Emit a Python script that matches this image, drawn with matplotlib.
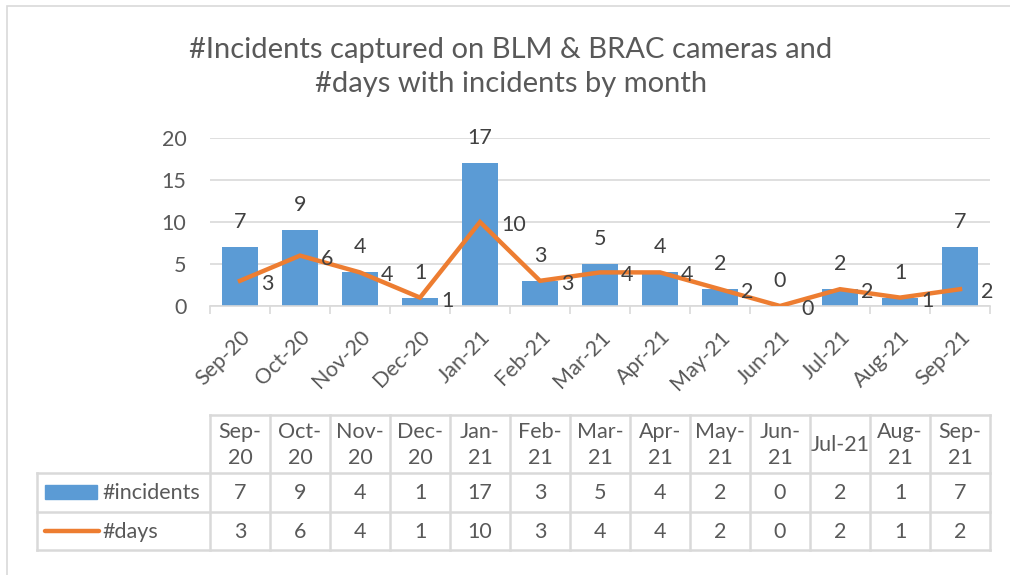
import matplotlib.pyplot as plt
from matplotlib.patches import Rectangle

# data
months = ['Sep-20', 'Oct-20', 'Nov-20', 'Dec-20', 'Jan-21', 'Feb-21', 'Mar-21',
          'Apr-21', 'May-21', 'Jun-21', 'Jul-21', 'Aug-21', 'Sep-21']
table_heads = ['Sep-\n20', 'Oct-\n20', 'Nov-\n20', 'Dec-\n20', 'Jan-\n21', 'Feb-\n21', 'Mar-\n21',
               'Apr-\n21', 'May-\n21', 'Jun-\n21', 'Jul-21', 'Aug-\n21', 'Sep-\n21']
incidents = [7, 9, 4, 1, 17, 3, 5, 4, 2, 0, 2, 1, 7]
days = [3, 6, 4, 1, 10, 3, 4, 4, 2, 0, 2, 1, 2]

plt.rcParams['font.family'] = ['Lato', 'DejaVu Sans']
BLUE = '#5B9BD5'
ORANGE = '#ED7D31'
GRID = '#D9D9D9'
TXT = '#595959'
LBL = '#404040'
FS = 15.5

W, H = 1010, 575
fig = plt.figure(figsize=(W / 100, H / 100), dpi=100)

def px_box(x0, y0, x1, y1):
    # pixel box (top-left origin) -> figure fraction rect
    return [x0 / W, 1 - y1 / H, (x1 - x0) / W, (y1 - y0) / H]

# chart area border
fig.patches.append(Rectangle((7 / W, -0.1), 1.2, 1 - 6 / H + 0.1, transform=fig.transFigure,
                             fill=False, ec=GRID, lw=1.2))

fig.text(511 / W, 1 - 67 / H, '#Incidents captured on BLM & BRAC cameras and\n#days with incidents by month',
         ha='center', va='center', fontsize=21, color=TXT, linespacing=1.4)

# main chart
ax = fig.add_axes(px_box(210, 138, 990, 306))
x = range(len(months))
ax.bar(x, incidents, width=0.6, color=BLUE, zorder=2)
ax.plot(x, days, color=ORANGE, lw=3.2, zorder=3, solid_joinstyle='miter')
ax.set_xlim(-0.5, 12.5)
ax.set_ylim(0, 20)
ax.set_yticks([0, 5, 10, 15, 20])
ax.yaxis.grid(True, color=GRID, lw=1.2, zorder=0)
ax.tick_params(axis='y', length=0, pad=17, labelsize=FS, labelcolor=TXT)
for s in ['top', 'right', 'left']:
    ax.spines[s].set_visible(False)
ax.spines['bottom'].set_color(GRID)
ax.spines['bottom'].set_linewidth(1.2)
ax.set_xticks([i - 0.5 for i in range(14)])
ax.set_xticklabels([])
ax.tick_params(axis='x', which='major', length=6, color=GRID, width=1.2)
ax.set_xticks(list(x), minor=True)
ax.set_xticklabels(months, minor=True, rotation=45, ha='right', rotation_mode='anchor')
ax.tick_params(axis='x', which='minor', length=0, pad=15, labelsize=FS, labelcolor=TXT)

for i, v in enumerate(incidents):
    ax.annotate(str(v), (i, v), xytext=(0, 25), textcoords='offset pixels',
                ha='center', va='center', fontsize=FS, color=LBL)
for i, v in enumerate(days):
    ax.annotate(str(v), (i, v), xytext=(21, -3), textcoords='offset pixels',
                ha='left', va='center', fontsize=FS, color=LBL)

# data table below
tb = fig.add_axes(px_box(210, 415, 990, 550))
tb.set_xlim(-0.5, 12.5)
tb.set_ylim(135, 0)
tb.axis('off')
lab_left = -0.5 - 173 / 60
rows = [0, 58, 97, 135]
for i in range(13):
    tb.text(i, 30, table_heads[i], ha='center', va='center', fontsize=FS, color=TXT, linespacing=1.4)
    tb.text(i, 78, str(incidents[i]), ha='center', va='center', fontsize=FS, color=TXT)
    tb.text(i, 117, str(days[i]), ha='center', va='center', fontsize=FS, color=TXT)
lk = dict(color=GRID, lw=1.8, clip_on=False)
tb.plot([-0.5, 12.5], [0, 0], **lk)
for yy in rows[1:]:
    tb.plot([lab_left, 12.5], [yy, yy], **lk)
for i in range(14):
    tb.plot([i - 0.5, i - 0.5], [0, 135], **lk)
tb.plot([lab_left, lab_left], [58, 135], **lk)

# legend keys inside the table
tb.add_patch(Rectangle((lab_left + 8 / 60, 70), 52 / 60, 14, color=BLUE, clip_on=False))
tb.plot([lab_left + 8 / 60, lab_left + 62 / 60], [116, 116], color=ORANGE, lw=3.2,
        solid_capstyle='round', clip_on=False)
tb.text(lab_left + 65 / 60, 78, '#incidents', ha='left', va='center', fontsize=FS, color=TXT)
tb.text(lab_left + 65 / 60, 117, '#days', ha='left', va='center', fontsize=FS, color=TXT)

fig.savefig('out.png', dpi=100)
